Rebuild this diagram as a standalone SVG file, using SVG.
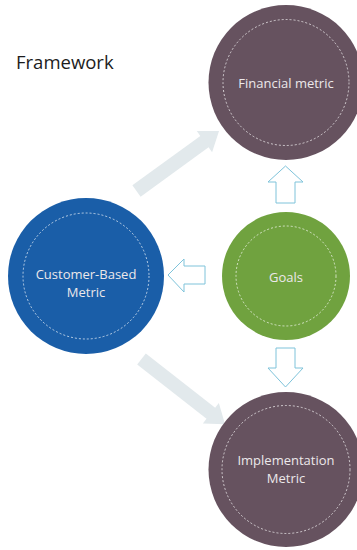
<svg xmlns="http://www.w3.org/2000/svg" width="357" height="550" viewBox="0 0 357 550">
<style>
.t{font-family:"Open Sans","Noto Sans","Liberation Sans",sans-serif;font-size:13px;fill:#ece8ea;text-anchor:middle}
.ttl{font-family:"Open Sans","Noto Sans","Liberation Sans",sans-serif;font-size:18.5px;fill:#1c1c1c}
.d{fill:none;stroke:#ffffff;stroke-opacity:0.85;stroke-width:0.8;stroke-dasharray:2 2}
.solid{fill:#e2e9ec}
.hollow{fill:#ffffff;stroke:#7ec3da;stroke-width:1}
</style>
<rect width="357" height="550" fill="#ffffff"/>
<text class="ttl" x="16" y="69">Framework</text>
<g id="connectors">
<polygon class="solid" points="0,-7 84,-7 84,-13 102,0 84,13 84,7 0,7" transform="translate(136.5,191) rotate(-36)"/>
<polygon class="solid" points="0,-7 88,-7 88,-13 106,0 88,13 88,7 0,7" transform="translate(141.5,359) rotate(38)"/>
<polygon class="hollow" points="276,203 276,182 268,182 285.5,166 303,182 295,182 295,203"/>
<polygon class="hollow" points="276,348 295,348 295,368 303,368 285.5,387 268,368 276,368"/>
<polygon class="hollow" points="205,266 205,284 184,284 184,292 168,275 184,259 184,266"/>
</g>
<g id="financial">
<circle cx="286" cy="82.5" r="77.5" fill="#66525f"/>
<circle class="d" cx="286" cy="82.5" r="63"/>
<text class="t" x="286" y="88">Financial metric</text>
</g>
<g id="customer">
<circle cx="86" cy="276" r="78" fill="#1a5ea8"/>
<circle class="d" cx="86" cy="276" r="63"/>
<text class="t" x="86" y="279">Customer-Based</text>
<text class="t" x="86" y="297">Metric</text>
</g>
<g id="goals">
<circle cx="286" cy="276" r="64" fill="#70a23f"/>
<circle class="d" cx="286" cy="276" r="50"/>
<text class="t" x="286" y="282">Goals</text>
</g>
<g id="implementation">
<circle cx="286" cy="469.5" r="77.5" fill="#66525f"/>
<circle class="d" cx="286" cy="469.5" r="64"/>
<text class="t" x="286" y="465">Implementation</text>
<text class="t" x="286" y="483">Metric</text>
</g>
</svg>
